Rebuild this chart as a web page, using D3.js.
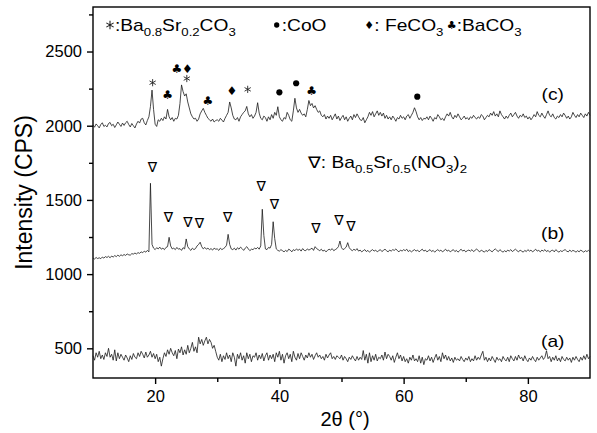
<!DOCTYPE html>
<html>
<head>
<meta charset="utf-8">
<script src="https://cdn.jsdelivr.net/npm/d3@7/dist/d3.min.js"></script>
<style>
  body { margin: 0; background: #fff; }
  text { font-family: "Liberation Sans", Arial, sans-serif; fill: #000; }
  .sym { font-family: "DejaVu Sans", sans-serif; }
</style>
</head>
<body>
<div id="main"></div>
<script>
const W = 597;
const H = 433;

// 2theta grid: 10..90 step 0.25
const T_START = 10, T_STEP = 0.25;

// trace (c)
const traceC = [
 2005,1990,2012,2000, 1985,2008,2020,1995, 2003,1992,2015,2022, 2000,2010,1988,2006,
 2025,2010,1995,2018, 2002,2020,2030,2008, 1992,2015,2000,1985, 2012,2030,2018,2045,
 2050,2020,2005,2035, 2060,2130,2240,2110, 2010,1995,2040,2030, 2050,2035,2060,2045,
 2110,2060,2040,2055, 2030,2050,2045,2070, 2150,2275,2230,2200, 2215,2160,2120,2080,
 2060,2045,2050,2030, 2045,2080,2100,2117, 2090,2070,2050,2040, 2030,2045,2025,2035,
 2040,2030,2050,2038, 2025,2050,2070,2090, 2160,2120,2070,2045, 2040,2055,2030,2060,
 2075,2090,2100,2130, 2080,2060,2075,2050, 2065,2090,2155,2085, 2050,2040,2065,2055,
 2030,2060,2040,2075, 2050,2090,2070,2128, 2060,2040,2030,2055, 2045,2090,2070,2040,
 2030,2100,2185,2120, 2090,2110,2085,2070, 2080,2060,2110,2170, 2135,2150,2120,2135,
 2110,2090,2100,2070, 2060,2075,2045,2065, 2050,2070,2040,2060, 2080,2045,2065,2035,
 2055,2070,2040,2060, 2030,2050,2065,2040, 2075,2055,2080,2060, 2040,2035,2055,2020,
 2040,2060,2090,2070, 2095,2060,2080,2100, 2070,2090,2065,2085, 2050,2070,2045,2060,
 2040,2065,2050,2030, 2055,2045,2070,2050, 2060,2040,2065,2075, 2050,2070,2090,2121,
 2095,2060,2040,2055, 2035,2050,2045,2060, 2040,2065,2050,2030, 2055,2045,2075,2060,
 2040,2050,2035,2060, 2080,2065,2090,2060, 2045,2070,2055,2080, 2060,2040,2050,2065,
 2045,2055,2040,2060, 2050,2070,2055,2045, 2060,2050,2075,2065, 2040,2055,2070,2060,
 2085,2070,2095,2065, 2080,2060,2100,2075, 2060,2045,2065,2050, 2070,2085,2060,2075,
 2090,2065,2050,2070, 2060,2080,2055,2065, 2045,2060,2040,2055, 2075,2060,2095,2070,
 2060,2085,2065,2050, 2075,2100,2070,2060, 2080,2055,2045,2065, 2055,2075,2060,2085,
 2070,2050,2065,2045, 2060,2090,2070,2055, 2075,2060,2085,2070, 2055,2080,2065,2090,
 2070
];

// trace (b)
const traceB = [
 1108,1102,1112,1105, 1110,1104,1115,1108, 1118,1112,1120,1110, 1122,1115,1125,1118,
 1128,1120,1130,1124, 1132,1126,1136,1130, 1128,1138,1135,1142, 1136,1145,1140,1150,
 1144,1155,1148,1160, 1150,1612,1200,1175, 1165,1178,1170,1182, 1168,1175,1165,1180,
 1185,1248,1190,1170, 1175,1165,1180,1168, 1172,1160,1178,1170, 1237,1185,1170,1160,
 1175,1165,1172,1190, 1200,1215,1185,1170, 1180,1168,1175,1165, 1172,1162,1175,1168,
 1170,1160,1175,1165, 1172,1180,1195,1268, 1200,1170,1165,1175, 1162,1178,1168,1182,
 1172,1160,1175,1185, 1170,1158,1168,1165, 1175,1170,1180,1168, 1190,1437,1260,1170,
 1165,1180,1175,1200, 1353,1240,1170,1160, 1155,1165,1158,1150, 1160,1152,1168,1162,
 1150,1165,1158,1170, 1160,1168,1155,1172, 1160,1158,1170,1162, 1168,1175,1160,1185,
 1172,1165,1158,1168, 1155,1162,1150,1160, 1168,1162,1172,1158, 1165,1172,1185,1223,
 1178,1165,1172,1182, 1212,1178,1165,1158, 1168,1160,1172,1155, 1162,1150,1158,1165,
 1152,1160,1148,1158, 1165,1155,1162,1150, 1158,1165,1152,1160, 1168,1158,1150,1162,
 1155,1165,1160,1170, 1158,1150,1162,1155, 1165,1158,1168,1152, 1160,1150,1158,1165,
 1155,1162,1150,1160, 1168,1155,1162,1150, 1158,1165,1152,1160, 1148,1158,1165,1155,
 1162,1150,1158,1168, 1155,1162,1150,1158, 1165,1152,1160,1148, 1158,1168,1155,1162,
 1150,1158,1162,1155, 1165,1152,1160,1170, 1158,1150,1162,1155, 1148,1160,1152,1165,
 1158,1150,1162,1170, 1160,1152,1165,1155, 1148,1158,1150,1162, 1155,1165,1152,1160,
 1168,1158,1150,1162, 1155,1148,1160,1152, 1165,1155,1162,1150, 1158,1168,1155,1160,
 1150,1162,1155,1165, 1152,1160,1148,1158, 1162,1150,1165,1155, 1148,1158,1152,1160,
 1165,1155,1150,1162, 1152,1160,1155,1148, 1158,1150,1162,1155, 1148,1158,1152,1160,
 1150
];

// trace (a)
const traceA = [
 450,420,470,440, 480,430,455,425, 470,445,500,440, 460,420,490,415,
 470,430,460,440, 420,455,435,410, 450,425,465,440, 430,470,445,480,
 460,435,475,440, 455,480,440,465, 430,460,410,440, 380,430,470,445,
 490,460,500,470, 450,485,430,495, 470,510,455,490, 460,520,470,500,
 540,480,510,470, 575,530,560,520, 550,575,530,560, 540,500,520,480,
 440,420,460,410, 450,425,470,430, 455,410,470,440, 380,460,430,470,
 420,450,400,470, 430,460,410,450, 440,470,420,455, 430,465,415,450,
 470,420,455,430, 460,410,470,440, 480,420,460,400, 450,470,430,460,
 410,480,440,420, 465,430,470,445, 420,455,435,470, 440,460,425,450,
 470,440,455,430, 445,420,460,435, 455,470,430,445, 425,450,440,430,
 455,420,445,430, 410,440,425,450, 430,415,445,420, 440,425,485,420,
 460,400,470,410, 450,420,460,415, 440,430,455,420, 475,430,460,445,
 420,450,405,440, 470,430,455,415, 445,410,430,400, 440,420,455,415,
 430,410,450,400, 440,390,430,420, 450,415,440,405, 435,460,420,445,
 410,470,430,455, 420,445,415,435, 405,440,420,430, 415,445,425,410,
 435,420,445,410, 430,415,450,420, 440,425,455,480, 420,440,410,435,
 415,445,425,405, 440,420,430,410, 445,425,415,440, 410,450,430,415,
 445,420,455,430, 440,415,450,425, 410,435,420,445, 425,410,440,420,
 435,450,425,440, 484,430,445,410, 440,420,450,415, 435,410,445,425,
 415,440,420,435, 405,440,420,445, 425,410,440,420, 450,425,460,430,
 445
];

// peak markers on (c): 2theta, intensity, kind
const markTheta = [19.6, 22.0, 23.5, 25.2, 25.1, 28.5, 32.35, 34.9, 40.0, 42.7, 45.2, 62.2];
const markInt   = [2290, 2207, 2380, 2380, 2318, 2169, 2236, 2245, 2225, 2286, 2236, 2196];
const markKind  = ["star", "club", "club", "diamond", "star", "club", "diamond", "star", "dot", "dot", "club", "dot"];

// nitrate triangles on (b)
const nitTheta = [19.57, 22.15, 25.27, 27.13, 31.7, 37.06, 39.2, 45.9, 49.6, 51.5];
const nitInt   = [1724, 1383, 1353, 1346, 1387, 1594, 1470, 1309, 1365, 1324];

const traceLabels = ["(c)", "(b)", "(a)"];
const labelTheta = [84, 84, 84];
const labelInt = [2175, 1240, 510];

// legend entries for (c)
const legKind = ["star", "dot", "diamond", "club"];
const legText = [
  [[":Ba"], ["0.8", "sub"], ["Sr", "up"], ["0.2", "sub"], ["CO", "up"], ["3", "sub"]],
  [[":CoO"]],
  [[": FeCO"], ["3", "sub"]],
  [[":BaCO"], ["3", "sub"]]
];

const xTicks = [20, 40, 60, 80];
const xMinorTicks = [30, 50, 70];
const yTicks = [500, 1000, 1500, 2000, 2500];
const yMinorTicks = [750, 1250, 1750, 2250, 2750];

var ctx = {
    left: 93, right: 590, top: 7, bottom: 378,
    lineColor: "#1a1a1a",
    stretch: 1.2,
    legX: [110, 276.7, 369.3, 451.7],
};

var makeChart = function(svg){
    var x = d3.scaleLinear().domain([10, 90]).range([ctx.left, ctx.right]);
    var y = d3.scaleLinear().domain([300, 2800]).range([ctx.bottom, ctx.top]);

    svg.append("rect")
       .attr("x", ctx.left).attr("y", ctx.top)
       .attr("width", ctx.right - ctx.left).attr("height", ctx.bottom - ctx.top)
       .attr("fill", "none").attr("stroke", "#000").attr("stroke-width", 1.4);

    var xAxis = d3.axisBottom(x).tickValues(xTicks).tickSize(6).tickPadding(6).tickFormat(d3.format("d"));
    var xMinor = d3.axisBottom(x).tickValues(xMinorTicks).tickSize(4).tickFormat("");
    var yAxis = d3.axisLeft(y).tickValues(yTicks).tickSize(6).tickPadding(5).tickFormat(d3.format("d"));
    var yMinor = d3.axisLeft(y).tickValues(yMinorTicks).tickSize(4).tickFormat("");

    [[xAxis, "x"], [xMinor, "x"], [yAxis, "y"], [yMinor, "y"]].forEach(function(a){
        var g = svg.append("g")
           .attr("transform", a[1] === "x" ? "translate(0," + ctx.bottom + ")" : "translate(" + ctx.left + ",0)")
           .call(a[0]);
        g.select(".domain").remove();
        g.selectAll("line").attr("stroke", "#000").attr("stroke-width", 1.4);
        g.selectAll("text").style("font-size", "16.5px").attr("fill", "#000")
         .style("font-family", "'Liberation Sans', Arial, sans-serif");
    });

    var line = d3.line()
        .x(function(d, i){ return x(T_START + i * T_STEP); })
        .y(function(d){ return y(d); });

    [traceC, traceB, traceA].forEach(function(tr){
        svg.append("path")
           .datum(tr)
           .attr("d", line)
           .attr("fill", "none")
           .attr("stroke", ctx.lineColor)
           .attr("stroke-width", 0.8)
           .attr("stroke-linejoin", "round");
    });

    // one marker of a given kind centred on (px, py)
    var drawMark = function(k, px, py, big){
        if (k === "star") {
            svg.append("path").attr("d", d3.symbol().type(d3.symbolAsterisk).size(big ? 50 : 36)())
               .attr("transform", "translate(" + px + "," + py + ")")
               .attr("fill", "none").attr("stroke", "#222").attr("stroke-width", big ? 1.1 : 0.9);
        } else if (k === "dot") {
            svg.append("path").attr("d", d3.symbol().type(d3.symbolCircle).size(big ? 22 : 30)())
               .attr("transform", "translate(" + px + "," + py + ")")
               .attr("fill", "#000");
        } else {
            svg.append("text").attr("class", "sym")
               .attr("x", px).attr("y", py)
               .attr("text-anchor", "middle").attr("dominant-baseline", "central")
               .style("font-size", big ? "11px" : "12px")
               .text(k === "club" ? "♣" : "♦");
        }
    };

    markKind.forEach(function(k, i){
        drawMark(k, x(markTheta[i]), y(markInt[i]), false);
    });

    svg.selectAll("text.nit")
       .data(nitTheta)
       .enter()
       .append("text")
       .attr("class", "nit sym")
       .attr("x", function(d){ return x(d); })
       .attr("y", function(d, i){ return y(nitInt[i]); })
       .attr("text-anchor", "middle")
       .attr("dominant-baseline", "central")
       .style("font-size", "14px")
       .text("∇");

    // stretched text helper (the original uses a wide font)
    var wide = function(px, py, parts, size, anchor){
        var g = svg.append("g").attr("transform", "translate(" + px + "," + py + ") scale(" + ctx.stretch + ",1)");
        var t = g.append("text").style("font-size", size + "px").attr("text-anchor", anchor || "start");
        parts.forEach(function(p){
            var s = t.append("tspan").text(p[0]);
            if (p[1] === "sub") { s.attr("dy", 5).style("font-size", "11px"); }
            else if (p[1] === "up") { s.attr("dy", -5); }
            if (p[2]) { s.attr("class", "sym"); }
        });
        return g;
    };

    traceLabels.forEach(function(l, i){
        wide(x(labelTheta[i]), y(labelInt[i]), [[l]], 16, "middle");
    });

    legKind.forEach(function(k, i){
        drawMark(k, ctx.legX[i], 25, true);
        wide(ctx.legX[i] + 5, 31, legText[i], 16);
    });

    wide(308, 168, [["∇", "", true], [": Ba"], ["0.5", "sub"], ["Sr", "up"], ["0.5", "sub"], ["(NO", "up"], ["3", "sub"], [")", "up"], ["2", "sub"]], 16);

    svg.append("text")
       .attr("x", 345)
       .attr("y", 426)
       .attr("text-anchor", "middle")
       .style("font-size", "20px")
       .text("2θ (°)");

    svg.append("text")
       .attr("transform", "translate(32," + ((ctx.top + ctx.bottom) / 2) + ") rotate(-90)")
       .attr("text-anchor", "middle")
       .style("font-size", "23px")
       .text("Intensity (CPS)");
};

var createViz = function(){
    var svgEl = d3.select("#main").append("svg");
    svgEl.attr("width", W);
    svgEl.attr("height", H);
    makeChart(svgEl);
};

createViz();
</script>
</body>
</html>
